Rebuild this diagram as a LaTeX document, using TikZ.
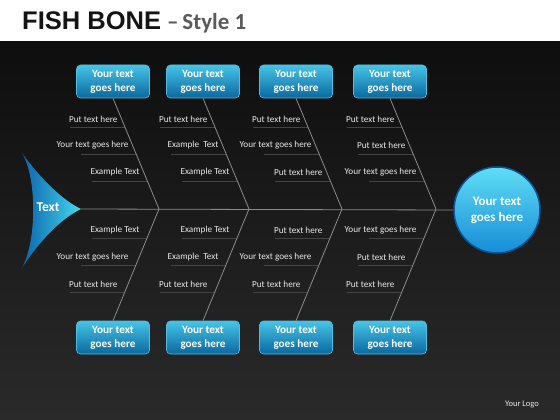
\documentclass[tikz,border=0pt]{standalone}
\usepackage{fontspec}
\setmainfont{Carlito}
\newfontfamily\titlefont{Liberation Sans}
\definecolor{bgtop}{RGB}{14,14,14}
\definecolor{bgbot}{RGB}{42,42,42}
\definecolor{titlecol}{RGB}{20,20,20}
\definecolor{subcol}{RGB}{90,90,90}
\definecolor{boxtop}{RGB}{70,196,230}
\definecolor{boxbot}{RGB}{10,104,160}
\definecolor{boxedge}{RGB}{80,190,225}
\definecolor{headdark}{RGB}{10,100,170}
\definecolor{headlight}{RGB}{70,215,240}
\definecolor{circtop}{RGB}{95,222,246}
\definecolor{circbot}{RGB}{22,140,215}
\definecolor{circedge}{RGB}{12,85,155}
\definecolor{bonecol}{RGB}{140,140,140}
\definecolor{ulcol}{RGB}{68,68,68}
\definecolor{lblcol}{RGB}{232,232,232}
\tikzset{
  causebox/.style={rectangle, rounded corners=4pt, minimum width=73pt, minimum height=33pt,
    top color=boxtop, bottom color=boxbot, draw=boxedge, line width=0.6pt, text=white,
    align=center, inner sep=1pt, font=\bfseries\fontsize{11.2}{14}\selectfont},
  lbl/.style={inner sep=0pt, text=lblcol, font=\fontsize{9.2}{11}\selectfont, anchor=east},
  uline/.style={draw=ulcol, line width=0.6pt},
  bone/.style={draw=bonecol, line width=0.8pt},
}
\begin{document}
\begin{tikzpicture}[x=1pt,y=-1pt]
\useasboundingbox (0,0) rectangle (560,420);
\fill[white] (0,0) rectangle (560,42);
\shade[top color=bgtop,bottom color=bgbot] (0,42) rectangle (560,420);
% title
\node[anchor=base west, inner sep=0pt, text=titlecol, font=\titlefont\bfseries\fontsize{25.5}{30}\selectfont] (title) at (22,30) {FISH BONE};
\node[anchor=base west, inner sep=0pt, text=subcol, font=\bfseries\fontsize{23}{28}\selectfont] (subtitle) at (167,30) {--\,Style 1};
% effect circle
\node[circle, minimum size=86pt, inner sep=0pt, top color=circtop, bottom color=circbot, draw=circedge, line width=1.5pt,
  text=white, align=center, font=\bfseries\fontsize{13}{16}\selectfont] (effect) at (497,210) {Your text\\goes here};
% head
\coordinate (tip) at (81,209);
% bones, labels
\foreach \i/\xo/\ta/\tb/\tc in {
  1/113/Put text here/Your text goes here/Example Text,
  2/203/Put text here/Example\ \ Text/Example Text,
  3/296/Put text here/Your text goes here/Put text here,
  4/390/Put text here/Put text here/Your text goes here}{
  \draw[uline] (\xo-42.8,127.5) -- (\xo+12.2,127.5);
  \draw[uline] (\xo-31.8,154) -- (\xo+23.2,154);
  \draw[uline] (\xo-20.6,181) -- (\xo+34.4,181);
  \draw[uline] (\xo-20.6,238.5) -- (\xo+33.9,238.5);
  \draw[uline] (\xo-31.8,265) -- (\xo+23.0,265);
  \draw[uline] (\xo-42.8,292) -- (\xo+11.9,292);
  \node[causebox] (tb\i) at (\xo,81.5) {Your text\\goes here};
  \node[causebox] (bb\i) at (\xo,337.5) {Your text\\goes here};
  \coordinate (s\i) at (\xo+46,209);
  \draw[bone] (tb\i.south) -- (s\i) -- (bb\i.north);
  \node[lbl] (la\i) at (\xo+4.7,119) {\ta};
  \node[lbl] (lb\i) at (\xo+15.7,145.5) {\tb};
  \node[lbl] (lc\i) at (\xo+26.7,172) {\tc};
  \node[lbl] (ld\i) at (\xo+26.7,230) {\tc};
  \node[lbl] (le\i) at (\xo+15.7,257) {\tb};
  \node[lbl] (lf\i) at (\xo+4.7,284) {\ta};
}
\draw[bone] (tip) -- (effect.west);
\shade[left color=headdark, right color=headlight]
  (22,153) .. controls (40,178) and (62,200) .. (81,209)
  .. controls (62,218) and (40,240) .. (22,268)
  .. controls (37,240) and (37,178) .. (22,153) -- cycle;
\node[text=white, inner sep=0pt, font=\bfseries\fontsize{13.5}{16}\selectfont] (headtxt) at (48,207) {Text};
\node[text=lblcol, inner sep=0pt, font=\fontsize{8.5}{10}\selectfont] (logo) at (522,405) {Your Logo};
\end{tikzpicture}
\end{document}
